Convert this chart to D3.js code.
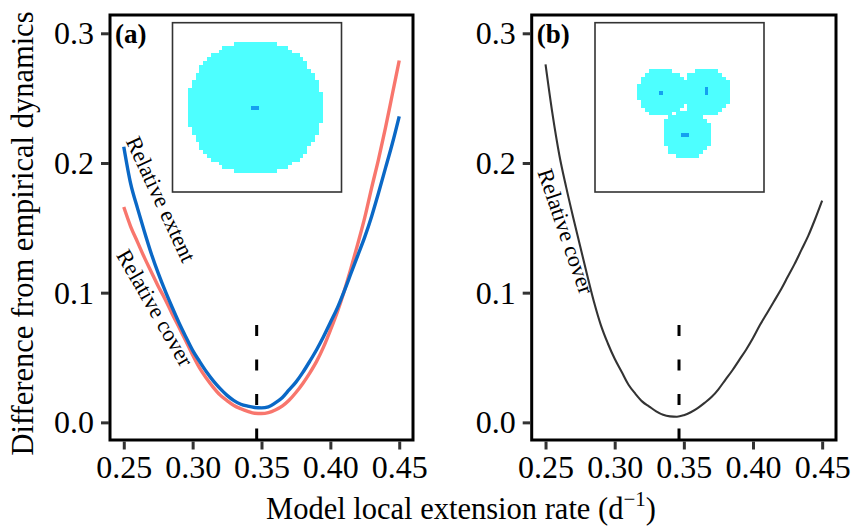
<!DOCTYPE html>
<html>
<head>
<meta charset="utf-8">
<script src="https://cdn.jsdelivr.net/npm/d3@7"></script>
<style>
  html, body { margin: 0; padding: 0; background: #fff; }
  svg { display: block; }
  svg text { font-family: "Liberation Serif", "Times New Roman", serif; fill: #000; }
</style>
</head>
<body>
<svg id="chart" width="851" height="527"></svg>
<script>
// ---------- data ----------
const rate = [0.250,0.255,0.260,0.265,0.270,0.275,0.280,0.285,0.290,0.295,
              0.300,0.305,0.310,0.315,0.320,0.325,0.330,0.335,0.340,0.345,
              0.350,0.355,0.360,0.365,0.370,0.375,0.380,0.385,0.390,0.395,
              0.400,0.405,0.410,0.415,0.420,0.425,0.430,0.435,0.440,0.445,0.450];

// panel (a) relative cover (salmon)
const coverA = [0.166,0.151,0.139,0.127,0.116,0.105,0.095,0.084,0.0735,0.063,
                0.052,0.042,0.034,0.027,0.021,0.0168,0.013,0.0105,0.0085,0.007,
                0.0068,0.0075,0.0095,0.0125,0.017,0.023,0.030,0.038,0.047,0.058,
                0.071,0.085,0.101,0.119,0.138,0.158,0.181,0.203,0.227,0.253,0.279];

// panel (a) relative extent (blue)
const extentA = [0.2125,0.184,0.165,0.147,0.130,0.115,0.1015,0.089,0.077,0.066,
                 0.0555,0.047,0.039,0.032,0.026,0.0208,0.0168,0.014,0.0125,0.0115,
                 0.0112,0.012,0.0150,0.019,0.025,0.031,0.0385,0.047,0.056,0.066,
                 0.077,0.088,0.101,0.115,0.129,0.143,0.159,0.177,0.196,0.215,0.236];

// panel (b) relative cover (black)
const coverB = [0.276,0.238,0.206,0.181,0.158,0.136,0.114,0.093,0.075,0.061,
                0.049,0.039,0.029,0.022,0.016,0.0122,0.0085,0.0058,0.0046,0.0043,
                0.0055,0.0078,0.011,0.015,0.0195,0.0255,0.0328,0.040,0.048,0.056,
                0.065,0.075,0.084,0.093,0.102,0.112,0.122,0.133,0.144,0.157,0.171];

const xTicks = [0.25, 0.30, 0.35, 0.40, 0.45];
const xTickLabels = ["0.25", "0.30", "0.35", "0.40", "0.45"];
const yTicks = [0.0, 0.1, 0.2, 0.3];
const yTickLabels = ["0.0", "0.1", "0.2", "0.3"];

const optimumRate = 0.3465;   // dashed reference line
const optimumTop = 0.075;

const panelTags = ["(a)", "(b)"];
const seriesLabelsA = ["Relative extent", "Relative cover"];
const seriesLabelsB = ["Relative cover"];

// inset rasters (grid units, 44 x 44 cells)
const insetGrid = 44;
const insetBlobsA = [{cx: 21.4, cy: 22.0, r: 17.5}];
const insetSeedsA = [{x: 20.4, y: 21.6, w: 2, h: 1}];
const insetBlobsB = [{cx: 17.3, cy: 18.0, r: 6.3},
                     {cx: 28.9, cy: 18.0, r: 6.3},
                     {cx: 23.8, cy: 28.9, r: 6.3}];
const insetSeedsB = [{x: 16.7, y: 17.7, w: 1, h: 1},
                     {x: 28.6, y: 16.7, w: 0.8, h: 2},
                     {x: 22.4, y: 28.6, w: 2, h: 1}];

// ---------- layout ----------
const SERIF = '"Liberation Serif", "Times New Roman", serif';
const svg = d3.select("#chart");
const FONT_TICK = 32;
const colCover = "#F8766D", colExtent = "#0A68C6", colBlack = "#333333";
const fillCyan = "#4DFFFF", fillSeed = "#14A0F0";

const yScale = d3.scaleLinear().domain([-0.0136, 0.3141]).range([440, 15]);

function drawPanel(cfg) {
  const x = d3.scaleLinear().domain([0.24, 0.46]).range([cfg.left, cfg.right]);
  const g = svg.append("g");

  // inset
  const ix = d3.scaleLinear().domain([0, insetGrid]).range([cfg.inset[0], cfg.inset[1]]);
  const iy = d3.scaleLinear().domain([0, insetGrid]).range([22.7, 192.0]);
  const ig = g.append("g");
  const cells = [];
  for (let j = 0; j < insetGrid; j++) {
    for (let i = 0; i < insetGrid; i++) {
      const inside = cfg.blobs.some(b => {
        const dx = i + 0.5 - b.cx, dy = j + 0.5 - b.cy;
        return dx * dx + dy * dy <= b.r * b.r;
      });
      if (inside) cells.push({i, j});
    }
  }
  ig.selectAll("rect.cell").data(cells).join("rect")
    .attr("class", "cell")
    .attr("x", d => ix(d.i)).attr("y", d => iy(d.j))
    .attr("width", ix(1) - ix(0) + 0.4).attr("height", iy(1) - iy(0) + 0.4)
    .attr("fill", fillCyan).attr("shape-rendering", "crispEdges");
  ig.selectAll("rect.seed").data(cfg.seeds).join("rect")
    .attr("class", "seed")
    .attr("x", d => ix(d.x)).attr("y", d => iy(d.y))
    .attr("width", d => ix(d.w) - ix(0)).attr("height", d => iy(d.h) - iy(0))
    .attr("fill", fillSeed).attr("shape-rendering", "crispEdges");
  ig.append("rect")
    .attr("x", ix(0)).attr("y", iy(0))
    .attr("width", ix(insetGrid) - ix(0)).attr("height", iy(insetGrid) - iy(0))
    .attr("fill", "none").attr("stroke", "#333").attr("stroke-width", 1.6);

  // dashed optimum line
  g.append("line")
    .attr("x1", x(optimumRate)).attr("x2", x(optimumRate))
    .attr("y1", yScale(optimumTop)).attr("y2", yScale(yScale.domain()[0]))
    .attr("stroke", "#000").attr("stroke-width", 3)
    .attr("stroke-dasharray", "11,23.5");

  // series
  const line = d3.line().x((d, i) => x(rate[i])).y(d => yScale(d)).curve(d3.curveMonotoneX);
  cfg.series.forEach(s => {
    g.append("path").datum(s.values)
      .attr("d", line)
      .attr("fill", "none")
      .attr("stroke", s.color)
      .attr("stroke-width", s.width)
      .attr("stroke-linejoin", "round")
      .attr("stroke-linecap", "butt");
  });

  // series labels
  cfg.labels.forEach(l => {
    g.append("text")
      .attr("transform", `translate(${x(l.at)},${yScale(l.val)}) rotate(${l.angle})`)
      .style("font-family", SERIF)
      .style("font-size", "22.5px")
      .text(l.text);
  });

  // frame
  g.append("rect")
    .attr("x", cfg.left).attr("y", 15)
    .attr("width", cfg.right - cfg.left).attr("height", 425)
    .attr("fill", "none").attr("stroke", "#000").attr("stroke-width", 3);

  // axes
  const yAxis = d3.axisLeft(yScale).tickValues(yTicks)
    .tickFormat((d, i) => yTickLabels[i]).tickSize(8).tickPadding(7);
  const ya = g.append("g").attr("transform", `translate(${cfg.left - 1},0)`).call(yAxis);
  ya.attr("font-family", null).attr("font-size", null);
  ya.select(".domain").remove();
  ya.selectAll(".tick line").attr("stroke", "#333").attr("stroke-width", 3);
  ya.selectAll(".tick text")
    .style("font-family", SERIF).style("font-size", FONT_TICK + "px").style("fill", "#000")
    .attr("dy", "0.33em");

  const xAxis = d3.axisBottom(x).tickValues(xTicks)
    .tickFormat((d, i) => xTickLabels[i]).tickSize(8).tickPadding(6);
  const xa = g.append("g").attr("transform", `translate(0,${441.5})`).call(xAxis);
  xa.attr("font-family", null).attr("font-size", null);
  xa.select(".domain").remove();
  xa.selectAll(".tick line").attr("stroke", "#333").attr("stroke-width", 3);
  xa.selectAll(".tick text")
    .style("font-family", SERIF).style("font-size", FONT_TICK + "px").style("fill", "#000")
    .attr("dy", "0.7em");

  // panel tag
  g.append("text")
    .attr("x", cfg.left + 5).attr("y", 43)
    .style("font-family", SERIF).style("font-size", "27px").style("font-weight", "bold")
    .text(cfg.tag);
}

drawPanel({
  left: 110, right: 413, inset: [172.5, 341.5], tag: panelTags[0],
  blobs: insetBlobsA, seeds: insetSeedsA,
  series: [
    {values: coverA, color: colCover, width: 3.4},
    {values: extentA, color: colExtent, width: 3.4}
  ],
  labels: [
    {text: seriesLabelsA[0], at: 0.2512, val: 0.217, angle: 65},
    {text: seriesLabelsA[1], at: 0.2442, val: 0.129, angle: 60}
  ]
});

drawPanel({
  left: 531.7, right: 836, inset: [595, 764], tag: panelTags[1],
  blobs: insetBlobsB, seeds: insetSeedsB,
  series: [
    {values: coverB, color: colBlack, width: 2.1}
  ],
  labels: [
    {text: seriesLabelsB[0], at: 0.2441, val: 0.193, angle: 71}
  ]
});

// axis titles
svg.append("text")
  .attr("transform", "translate(33,233.5) rotate(-90)")
  .attr("text-anchor", "middle")
  .style("font-family", SERIF).style("font-size", "30.5px")
  .text("Difference from empirical dynamics");

const xt = svg.append("text")
  .attr("x", 461).attr("y", 519)
  .attr("text-anchor", "middle")
  .style("font-family", SERIF).style("font-size", "30.5px");
xt.append("tspan").text("Model local extension rate (d");
xt.append("tspan").style("font-size", "21px").attr("dy", -13).text("\u22121");
xt.append("tspan").attr("dy", 13).text(")");
</script>
</body>
</html>
